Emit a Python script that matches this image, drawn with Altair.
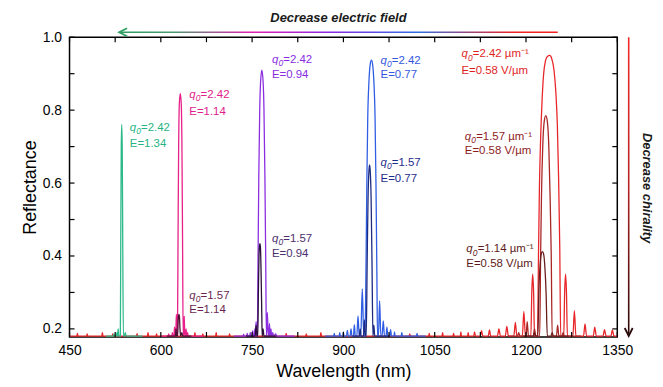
import altair as alt
import pandas as pd

FONT = "Liberation Sans"

# ---------------- spectra (wavelength nm, reflectance) ----------------
# E = 0.58 V/um, q0 = 2.42  (red, with baseline noise across the whole range)
red_lam = [450, 462, 463, 464, 478, 479, 480, 503, 504, 505, 520, 521, 522, 560, 561, 562,
           578, 579, 580, 592, 593, 594, 655, 656, 657, 668, 669, 670, 690, 691, 692, 712, 713, 714,
           805, 806, 807, 838, 839, 840, 862, 863, 864, 1008, 1009, 1010, 1040, 1041, 1042,
           1062, 1063, 1064, 1080, 1081, 1082, 1092, 1093, 1094, 1104, 1105, 1106,
           1114, 1115.5, 1117, 1125, 1127, 1129, 1138, 1140, 1142, 1153, 1155.5, 1158,
           1166, 1168.5, 1171, 1180, 1182.5, 1185, 1194, 1196.5, 1199, 1208, 1209.5, 1211, 1212.5, 1214,
           1219, 1220.5, 1222, 1224, 1226.5, 1229, 1232, 1235.5, 1239, 1242.5, 1246, 1249, 1251.5,
           1253.5, 1255.5, 1257,
           1262, 1263.5, 1265, 1266.5, 1268, 1277, 1279.5, 1282, 1294.5, 1297, 1299.5,
           1310.5, 1313, 1315.5, 1326.5, 1329, 1331.5, 1339.5, 1342, 1344.5, 1350]
red_r = [0.18, 0.18, 0.188, 0.18, 0.18, 0.186, 0.18, 0.18, 0.19, 0.18, 0.18, 0.186, 0.18, 0.18, 0.187, 0.18,
         0.18, 0.19, 0.18, 0.18, 0.186, 0.18, 0.18, 0.19, 0.18, 0.18, 0.186, 0.18, 0.18, 0.19, 0.18, 0.18, 0.186, 0.18,
         0.18, 0.188, 0.18, 0.18, 0.186, 0.18, 0.18, 0.19, 0.18, 0.18, 0.186, 0.18, 0.18, 0.188, 0.18,
         0.18, 0.19, 0.18, 0.18, 0.188, 0.18, 0.18, 0.192, 0.18, 0.18, 0.19, 0.18,
         0.18, 0.192, 0.18, 0.18, 0.195, 0.18, 0.18, 0.197, 0.18, 0.18, 0.2, 0.18,
         0.18, 0.207, 0.18, 0.18, 0.218, 0.18, 0.18, 0.248, 0.18, 0.18, 0.3, 0.35, 0.3, 0.18,
         0.18, 0.4, 0.58, 0.72, 0.83, 0.9, 0.935, 0.948, 0.95, 0.94, 0.91, 0.85, 0.76,
         0.62, 0.42, 0.18,
         0.18, 0.3, 0.35, 0.3, 0.18, 0.18, 0.25, 0.18, 0.18, 0.214, 0.18,
         0.18, 0.205, 0.18, 0.18, 0.198, 0.18, 0.18, 0.197, 0.18, 0.18]

# E = 0.58 V/um, q0 = 1.57 (dark red)
dred_lam = [1170, 1186, 1188, 1190, 1200, 1202, 1204, 1212, 1214, 1216, 1222.5, 1224, 1225.5, 1227.5,
            1230, 1232.5, 1235, 1237.5, 1239.5, 1241.5, 1243, 1250, 1252, 1254, 1259, 1261, 1263, 1290]
dred_r = [0.18, 0.18, 0.19, 0.18, 0.18, 0.22, 0.18, 0.18, 0.2, 0.18, 0.18, 0.4, 0.57, 0.7,
          0.77, 0.785, 0.77, 0.7, 0.57, 0.4, 0.18, 0.18, 0.21, 0.18, 0.18, 0.19, 0.18, 0.18]

# E = 0.58 V/um, q0 = 1.14 (brown)
brn_lam = [1195, 1212, 1214, 1216, 1219.5, 1221, 1223, 1225, 1227, 1229, 1231, 1233, 1235, 1241, 1243, 1245, 1270]
brn_r = [0.18, 0.18, 0.19, 0.18, 0.18, 0.3, 0.37, 0.405, 0.412, 0.405, 0.37, 0.3, 0.18, 0.18, 0.19, 0.18, 0.18]

# E = 0.77, q0 = 2.42 (blue)
blue_lam = [870, 884, 885, 886, 893, 894, 895, 899, 900, 901, 905, 906.5, 908, 911, 912.5, 914,
            916.5, 918, 919.5, 922, 924, 926, 928.5, 931, 933.5,
            935.5, 937, 938.5, 940, 942, 944, 946, 948, 950, 952, 953.5, 955, 956,
            957.5, 959.5, 961.5, 963.5, 965.5, 967.5, 970, 971.5, 973, 976, 977.5, 979,
            983, 984, 985, 995, 996, 997, 1020, 1021, 1022, 1035]
blue_r = [0.18, 0.18, 0.188, 0.18, 0.18, 0.19, 0.18, 0.18, 0.192, 0.18, 0.18, 0.196, 0.18, 0.18, 0.2, 0.18,
          0.18, 0.212, 0.18, 0.18, 0.236, 0.18, 0.18, 0.31, 0.18,
          0.18, 0.35, 0.6, 0.78, 0.88, 0.925, 0.937, 0.925, 0.88, 0.78, 0.6, 0.35, 0.18,
          0.18, 0.277, 0.18, 0.18, 0.222, 0.18, 0.18, 0.205, 0.18, 0.18, 0.198, 0.18,
          0.18, 0.192, 0.18, 0.18, 0.19, 0.18, 0.18, 0.188, 0.18, 0.18]

# E = 0.77, q0 = 1.57 (navy)
navy_lam = [915, 926, 927.5, 929, 933, 934.5, 936, 937.5, 939, 940.5, 942, 943, 944, 945.5, 947, 948.5,
            950, 951.5, 975]
navy_r = [0.18, 0.18, 0.2, 0.18, 0.18, 0.225, 0.18, 0.18, 0.38, 0.56, 0.635, 0.65, 0.635, 0.56, 0.38, 0.18,
          0.21, 0.18, 0.18]

# E = 0.94, q0 = 2.42 (violet)
pur_lam = [720, 735, 736, 737, 741, 742, 743, 746, 747, 748, 750, 751, 752, 753.5, 754.5, 755.5,
           756.5, 757.5, 758.5, 759.8, 761, 762.5, 764, 766, 768, 769.5, 771, 772.3, 773.5,
           775, 776.5, 777.5, 778.5, 779.5, 781, 782, 784, 785, 789, 790, 820]
pur_r = [0.18, 0.18, 0.185, 0.18, 0.18, 0.188, 0.18, 0.18, 0.19, 0.18, 0.18, 0.195, 0.18, 0.18, 0.2, 0.18,
         0.22, 0.18, 0.18, 0.4, 0.62, 0.8, 0.88, 0.91, 0.88, 0.8, 0.62, 0.4, 0.18,
         0.245, 0.18, 0.18, 0.215, 0.18, 0.2, 0.18, 0.19, 0.18, 0.186, 0.18, 0.18]

# E = 0.94, q0 = 1.57 (dark violet)
dpur_lam = [740, 755, 756.5, 758, 759.3, 760.3, 761.3, 762.3, 763, 763.8, 764.8, 765.8, 766.6, 768, 769.5, 790]
dpur_r = [0.18, 0.18, 0.21, 0.18, 0.18, 0.3, 0.4, 0.43, 0.434, 0.42, 0.35, 0.25, 0.18, 0.2, 0.18, 0.18]

# E = 1.14, q0 = 2.42 (magenta)
mag_lam = [600, 612, 613, 614, 618, 619, 620, 621.5, 622.5, 623.5, 624.5, 625.5, 626.5,
           627.3, 628.3, 629.3, 630.5, 632, 633.5, 634.7, 635.7, 636.7,
           637.5, 638.5, 639.5, 640.5, 641.5, 642.5, 644, 645, 670]
mag_r = [0.18, 0.18, 0.186, 0.18, 0.18, 0.19, 0.18, 0.18, 0.205, 0.18, 0.18, 0.24, 0.18,
         0.18, 0.45, 0.7, 0.82, 0.845, 0.82, 0.7, 0.45, 0.18,
         0.18, 0.235, 0.18, 0.18, 0.2, 0.18, 0.19, 0.18, 0.18]

# E = 1.14, q0 = 1.57 (plum)
plum_lam = [610, 624, 625, 626, 627.5, 628.5, 629.5, 630.5, 631.5, 632.5, 634.5, 636, 650]
plum_r = [0.18, 0.18, 0.2, 0.18, 0.18, 0.225, 0.24, 0.235, 0.2, 0.18, 0.19, 0.18, 0.18]

# E = 1.34, q0 = 2.42 (green)
grn_lam = [510, 522, 523, 524, 527, 528, 529, 530, 531, 533.5, 534.2, 535, 535.8, 536.6, 537.4, 538.5,
           540, 541.5, 543, 570]
grn_r = [0.18, 0.18, 0.186, 0.18, 0.18, 0.19, 0.18, 0.2, 0.18, 0.18, 0.45, 0.7, 0.76, 0.7, 0.45, 0.18,
         0.18, 0.19, 0.18, 0.18]

series = [
    (red_lam, red_r, "#e8262a"),
    (dred_lam, dred_r, "#a82626"),
    (brn_lam, brn_r, "#6a1c1c"),
    (blue_lam, blue_r, "#2f5de3"),
    (navy_lam, navy_r, "#1c2a80"),
    (pur_lam, pur_r, "#8b2ee0"),
    (dpur_lam, dpur_r, "#2a1038"),
    (mag_lam, mag_r, "#e8208a"),
    (plum_lam, plum_r, "#4a1232"),
    (grn_lam, grn_r, "#2db98a"),
]

# ---------------- annotations ----------------
lab_lam = [549, 646.8, 646.8, 782.6, 782.6, 961, 961, 1094, 1099.5, 1102]
lab_r1 = [0.751, 0.842, 0.291, 0.937, 0.446, 0.936, 0.655, 0.953, 0.727, 0.418]
lab_r2 = [0.707, 0.796, 0.251, 0.896, 0.405, 0.896, 0.612, 0.907, 0.687, 0.377]
lab_rest = ["=2.42", "=2.42", "=1.57", "=2.42", "=1.57", "=2.42", "=1.57",
            "=2.42 µm⁻¹", "=1.57 µm⁻¹", "=1.14 µm⁻¹"]
lab_line2 = ["E=1.34", "E=1.14", "E=1.14", "E=0.94", "E=0.94", "E=0.77", "E=0.77",
             "E=0.58 V/µm", "E=0.58 V/µm", "E=0.58 V/µm"]
lab_col = ["#25b583", "#e0208a", "#6a1f4f", "#8a2be2", "#4b2e6e", "#3358e0", "#1e2d8c",
           "#e01e1e", "#8f1c1c", "#5e1a1a"]

x_major = [450, 600, 750, 900, 1050, 1200, 1350]
x_ticks = [450, 525, 600, 675, 750, 825, 900, 975, 1050, 1125, 1200, 1275, 1350]
y_major = [0.2, 0.4, 0.6, 0.8, 1.0]
y_ticks = [0.2, 0.3, 0.4, 0.5, 0.6, 0.7, 0.8, 0.9, 1.0]

W, H = 552, 302

x_scale = alt.Scale(domain=[450, 1350], nice=False, zero=False)
y_scale = alt.Scale(domain=[0.178, 1.0], nice=False, zero=False)
x_axis = alt.Axis(values=x_major, format="d", title="Wavelength (nm)", domain=False, ticks=False, grid=False,
                  labelFontSize=14, labelPadding=7, labelColor="black", labelFlush=False,
                  titleFontSize=18, titleFontWeight="normal", titleColor="black", titlePadding=5)
y_axis = alt.Axis(values=y_major, format=".1f", title="Reflectance", domain=False, ticks=False, grid=False,
                  labelFontSize=14, labelPadding=8, labelColor="black", labelFlush=False,
                  titleFontSize=18, titleFontWeight="normal", titleColor="black", titlePadding=3)

layers = []
for lam, r, col in series:
    df = pd.DataFrame({"lam": lam, "r": r})
    layers.append(
        alt.Chart(df).mark_line(color=col, strokeWidth=1.3, interpolate="monotone", clip=True).encode(
            x=alt.X("lam:Q", scale=x_scale, axis=x_axis),
            y=alt.Y("r:Q", scale=y_scale, axis=y_axis),
        )
    )

# inward ticks
xt = pd.DataFrame({"t": x_ticks})
yt = pd.DataFrame({"t": y_ticks})
tick_style = dict(color="black", strokeWidth=1.2)
layers.append(alt.Chart(xt).mark_rule(**tick_style).encode(
    x=alt.X("t:Q", scale=x_scale, axis=x_axis), y=alt.value(H), y2=alt.value(H - 5)))
layers.append(alt.Chart(xt).mark_rule(**tick_style).encode(
    x=alt.X("t:Q", scale=x_scale, axis=x_axis), y=alt.value(0), y2=alt.value(5)))
layers.append(alt.Chart(yt).mark_rule(**tick_style).encode(
    y=alt.Y("t:Q", scale=y_scale, axis=y_axis), x=alt.value(0), x2=alt.value(5)))
layers.append(alt.Chart(yt).mark_rule(**tick_style).encode(
    y=alt.Y("t:Q", scale=y_scale, axis=y_axis), x=alt.value(W), x2=alt.value(W - 5)))

# labels
lab = pd.DataFrame({"lam": lab_lam, "r1": lab_r1, "r2": lab_r2, "rest": lab_rest,
                    "line2": lab_line2, "col": lab_col})
lx = alt.X("lam:Q", scale=x_scale, axis=x_axis)
lcol = alt.Color("col:N", scale=None)
FS = 11.5
tstyle = dict(align="left", baseline="middle", fontSize=FS, font=FONT)
layers.append(alt.Chart(lab).mark_text(fontStyle="italic", **tstyle).encode(
    x=lx, y=alt.Y("r1:Q", scale=y_scale, axis=y_axis), color=lcol, text=alt.value("q")))
layers.append(alt.Chart(lab).mark_text(fontStyle="italic", dx=6.5, dy=3.2,
                                       align="left", baseline="middle", fontSize=8.5, font=FONT).encode(
    x=lx, y=alt.Y("r1:Q", scale=y_scale, axis=y_axis), color=lcol, text=alt.value("0")))
layers.append(alt.Chart(lab).mark_text(dx=11.4, **tstyle).encode(
    x=lx, y=alt.Y("r1:Q", scale=y_scale, axis=y_axis), color=lcol, text="rest:N"))
layers.append(alt.Chart(lab).mark_text(**tstyle).encode(
    x=lx, y=alt.Y("r2:Q", scale=y_scale, axis=y_axis), color=lcol, text="line2:N"))

# decorations: gradient arrows and their captions
deco = alt.Data(values=[{"a": 1}])
h_grad = alt.LinearGradient(gradient="linear", x1=0, x2=1, y1=0, y2=0, stops=[
    alt.GradientStop(color="#2e9e62", offset=0),
    alt.GradientStop(color="#4a9a70", offset=0.12),
    alt.GradientStop(color="#e020b0", offset=0.3),
    alt.GradientStop(color="#8a2be2", offset=0.48),
    alt.GradientStop(color="#2f6ee0", offset=0.68),
    alt.GradientStop(color="#f02424", offset=0.9),
    alt.GradientStop(color="#f02424", offset=1),
])
AY = -5
layers.append(alt.Chart(deco).mark_rect(fill=h_grad).encode(
    x=alt.value(51), x2=alt.value(492), y=alt.value(AY - 0.8), y2=alt.value(AY + 0.8)))
layers.append(alt.Chart(deco).mark_point(shape="M1,-1L-1,0L1,1", filled=False, stroke="#2e9e62",
                                         strokeWidth=1.8, size=64, opacity=1).encode(
    x=alt.value(54), y=alt.value(AY)))
layers.append(alt.Chart(deco).mark_text(fontWeight="bold", fontStyle="italic", fontSize=13, font=FONT,
                                        align="center", baseline="middle", color="#1a1a1a").encode(
    x=alt.value(271), y=alt.value(-19), text=alt.value("Decrease electric field")))

v_grad = alt.LinearGradient(gradient="linear", x1=0, x2=0, y1=0, y2=1, stops=[
    alt.GradientStop(color="#f42a2a", offset=0),
    alt.GradientStop(color="#b82222", offset=0.5),
    alt.GradientStop(color="#2a0808", offset=1),
])
layers.append(alt.Chart(deco).mark_rect(fill=v_grad).encode(
    x=alt.value(562.7), x2=alt.value(564.3), y=alt.value(0), y2=alt.value(300)))
layers.append(alt.Chart(deco).mark_point(shape="M-1,-1L0,1L1,-1", filled=False, stroke="#2a0a0a",
                                         strokeWidth=1.8, size=64, opacity=1).encode(
    x=alt.value(563.5), y=alt.value(297)))
layers.append(alt.Chart(deco).mark_text(fontWeight="bold", fontStyle="italic", fontSize=13, font=FONT,
                                        align="center", baseline="middle", angle=90, color="#1a1a1a").encode(
    x=alt.value(581.7), y=alt.value(152), text=alt.value("Decrease chirality")))

chart = alt.layer(*layers).properties(
    width=W, height=H,
    padding={"left": 62, "top": 28, "right": 38, "bottom": 48},
    autosize=alt.AutoSizeParams(type="none"),
).configure(font=FONT).configure_view(stroke="black", strokeWidth=1.5)

chart.save("out.html", embed_options={"renderer": "svg", "actions": False})
